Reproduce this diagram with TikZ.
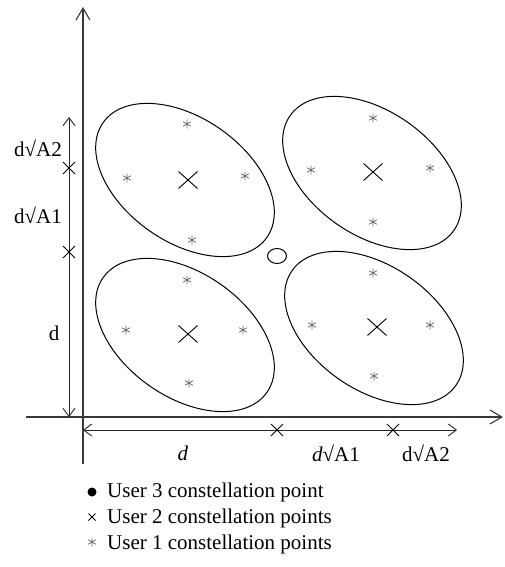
\documentclass[tikz,border=0pt]{standalone}
\usepackage{fontspec}
\setmainfont{Liberation Serif}
\usetikzlibrary{arrows.meta,shapes.geometric}
\begin{document}
\begin{tikzpicture}[x=1pt,y=-1pt,
  axis/.style={draw=black!78,line width=1.1pt},
  dimline/.style={draw=black!85,line width=0.9pt,{Straight Barb[length=8pt,width=12pt]}-{Straight Barb[length=8pt,width=12pt]}},
  lbl/.style={font=\fontsize{21}{24}\selectfont,inner sep=0pt},
  region/.style={draw=black,line width=1pt},
  star/.style={draw=gray!85!black,line width=0.8pt},
  bigx/.style={line width=0.9pt},
  tick/.style={line width=0.9pt}]
\useasboundingbox (0,0) rectangle (505,567);
% axes
\coordinate (yb) at (83,464); \coordinate (yt) at (83,7);
\coordinate (xl) at (26,417); \coordinate (xr) at (503,417);
\draw[axis,-{Straight Barb[length=12pt,width=14pt]}] (yb) -- (yt);
\draw[axis,-{Straight Barb[length=12pt,width=14pt]}] (xl) -- (xr);
% ellipses
\foreach \n/\cx/\cy in {tl/185/180, tr/372/173, bl/185/335, br/374/328}{
  \coordinate (e\n) at (\cx,\cy);
  \draw[region,rotate around={-35:(e\n)}] (e\n) ellipse [x radius=100pt, y radius=62pt];
}
% user 2 points (big crosses)
\newcommand{\bigcross}[2]{\draw[bigx] (#1-9.5,#2-8.5) -- (#1+9.5,#2+8.5) (#1-9.5,#2+8.5) -- (#1+9.5,#2-8.5);}
\bigcross{188}{180}
\bigcross{373}{172}
\bigcross{188}{334}
\bigcross{377}{327}
% user 1 points (asterisks)
\newcommand{\starmark}[2]{\draw[star] (#1,#2-4.5) -- (#1,#2+4.5) (#1-3.9,#2-2.25) -- (#1+3.9,#2+2.25) (#1-3.9,#2+2.25) -- (#1+3.9,#2-2.25);}
\foreach \px/\py in {187/124,127/178,245/176,192/240,
                     373/118,311/170,430/168,373/222,
                     187/280,126/330,243/330,189/383,
                     373/273,312/325,430/325,374/376}{
  \starmark{\px}{\py}
}
% user 3 point
\node[draw,line width=1pt,ellipse,minimum width=19pt,minimum height=15pt,inner sep=0pt] (u3) at (277,256) {};
% vertical dimension line
\coordinate (v0) at (69,417); \coordinate (v1) at (69,252); \coordinate (v2) at (69,168); \coordinate (v3) at (69,117);
\draw[dimline] (v0) -- (v3);
\foreach \c in {v1,v2}{\draw[tick] ([xshift=-6pt,yshift=-6pt]\c) -- ([xshift=6pt,yshift=6pt]\c) ([xshift=-6pt,yshift=6pt]\c) -- ([xshift=6pt,yshift=-6pt]\c);}
\node[lbl,anchor=east] (la2) at (62,148) {d√A2};
\node[lbl,anchor=east] (la1) at (62,215) {d√A1};
\node[lbl] (ld) at (54,333) {d};
% horizontal dimension line
\coordinate (h0) at (83,430); \coordinate (h1) at (277,430); \coordinate (h2) at (393,430); \coordinate (h3) at (457,430);
\draw[dimline] (h0) -- (h3);
\foreach \c in {h1,h2}{\draw[tick] ([xshift=-6pt,yshift=-6pt]\c) -- ([xshift=6pt,yshift=6pt]\c) ([xshift=-6pt,yshift=6pt]\c) -- ([xshift=6pt,yshift=-6pt]\c);}
\node[lbl] (hd) at (183,453) {\textit{d}};
\node[lbl] (ha1) at (336,453) {\textit{d}√A1};
\node[lbl] (ha2) at (426,453) {d√A2};
% legend
\fill (92,492) circle (4.5pt);
\node[lbl,anchor=west] (leg3) at (107,492) {User 3 constellation point};
\draw[line width=0.8pt] (88.5,513.5) -- (95.5,520.5) (88.5,520.5) -- (95.5,513.5);
\node[lbl,anchor=west] (leg2) at (107,518) {User 2 constellation points};
\starmark{92}{542}
\node[lbl,anchor=west] (leg1) at (107,544) {User 1 constellation points};
\end{tikzpicture}
\end{document}
